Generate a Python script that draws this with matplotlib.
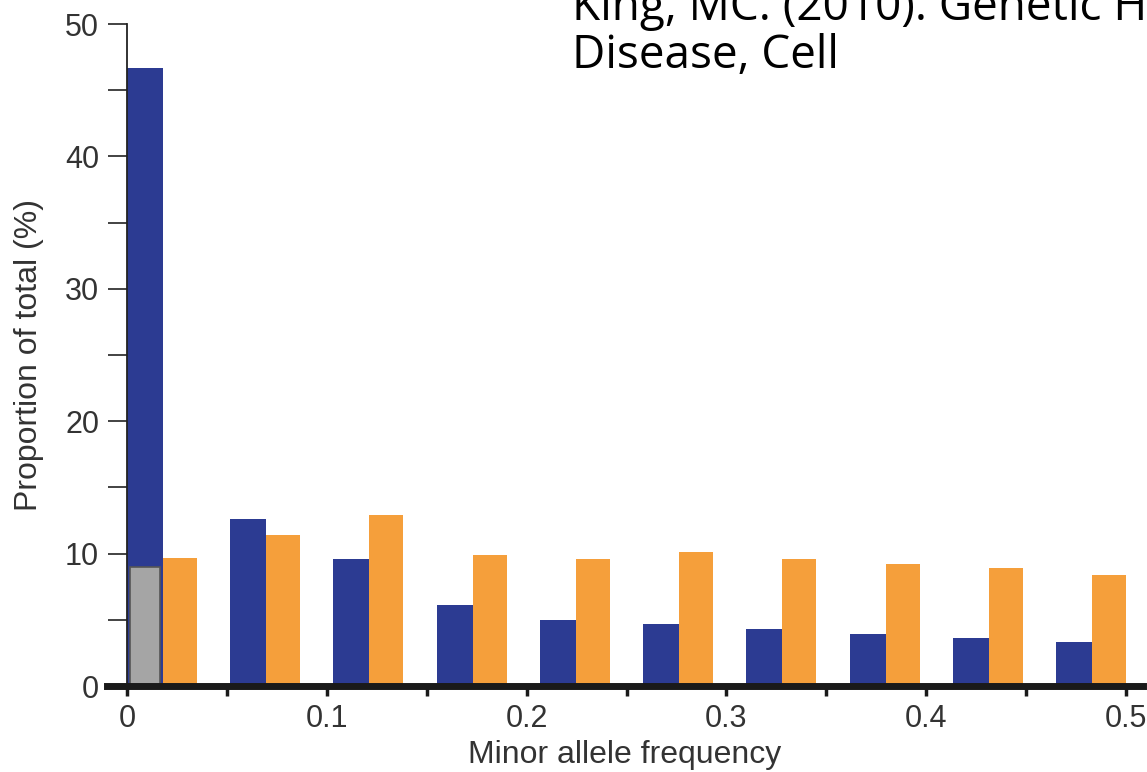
from matplotlib import pyplot as plt
import numpy as np

# minor allele frequency bins, proportion of total (%)
n_bins = 10
blue_vals = [46.7, 12.6, 9.6, 6.1, 5.0, 4.7, 4.3, 3.9, 3.6, 3.3]
orange_vals = [9.7, 11.4, 12.9, 9.9, 9.6, 10.1, 9.6, 9.2, 8.9, 8.4]
gray_vals = [9.0]

x_ticks = [0, 0.1, 0.2, 0.3, 0.4, 0.5]
x_ticklabels = ['0', '0.1', '0.2', '0.3', '0.4', '0.5']
y_ticks = [0, 10, 20, 30, 40, 50]

BLUE = '#2c3b92'
ORANGE = '#f59f3b'
GRAY = '#a5a5a5'
TXT = '#333333'

plt.rcParams['font.family'] = ['Liberation Sans', 'DejaVu Sans']

W, H = 1147, 772
fig = plt.figure(figsize=(W / 100, H / 100), dpi=100)

# axes in pixel terms: x=0 at 127px, 0.5 at 1126px ; y=0 at 686px, 50 at 24px
px_per_unit = (1126 - 127) / 0.5
ax_left, ax_right = 107, 1143
ax_bottom, ax_top = 686, 24
ax = fig.add_axes([ax_left / W, 1 - ax_bottom / H,
                   (ax_right - ax_left) / W, (ax_bottom - ax_top) / H])
ax.set_xlim((ax_left - 127) / px_per_unit, (ax_right - 127) / px_per_unit)
ax.set_ylim(0, 50)

w_blue, w_orange = 0.018, 0.017
pair_w = w_blue + w_orange
step = (0.5 - pair_w) / (n_bins - 1)
lefts = np.arange(n_bins) * step

ax.bar(lefts, blue_vals, width=w_blue, align='edge', color=BLUE, linewidth=0, zorder=1)
ax.bar(lefts + w_blue, orange_vals, width=w_orange, align='edge', color=ORANGE,
       linewidth=0, zorder=1)
ax.bar(lefts[:1] + 0.0015, gray_vals, width=w_blue - 0.003, align='edge', color=GRAY,
       edgecolor='#555555', linewidth=1.2, zorder=2)

# spines
for s in ['top', 'right']:
    ax.spines[s].set_visible(False)
ax.spines['left'].set_position(('data', 0))
ax.spines['left'].set_bounds(0, 50)
ax.spines['left'].set_linewidth(1.3)
ax.spines['left'].set_color('#222222')
ax.spines['bottom'].set_linewidth(5)
ax.spines['bottom'].set_color('#1a1a1a')
ax.spines['bottom'].set_zorder(3)

ax.set_yticks(y_ticks)
ax.set_yticks(np.arange(5, 50, 10), minor=True)
ax.tick_params(axis='y', which='both', direction='out', length=14, width=1.2,
               color='#222222', labelsize=22, labelcolor=TXT, pad=6)

ax.set_xticks(x_ticks)
ax.set_xticklabels(x_ticklabels)
ax.set_xticks(np.arange(0.05, 0.5, 0.1), minor=True)
ax.tick_params(axis='x', which='both', direction='out', length=7, width=2.5,
               color='#1a1a1a', labelsize=22, labelcolor=TXT, pad=6)

ax.set_ylabel('Proportion of total (%)', fontsize=23, color=TXT)
ax.yaxis.set_label_coords((44 - ax_left) / (ax_right - ax_left), 0.5)
ax.set_xlabel('Minor allele frequency', fontsize=23, color=TXT, labelpad=4)

# citation text (runs past the right edge, as in the slide)
fig.text(572 / W, 1 - 20 / H, 'King, MC. (2010). Genetic Heterogeneity in Human',
         fontsize=33, family=['Open Sans', 'DejaVu Sans'], color='black', va='baseline')
fig.text(572 / W, 1 - 68 / H, 'Disease, Cell',
         fontsize=33, family=['Open Sans', 'DejaVu Sans'], color='black', va='baseline')

fig.savefig('out.png', dpi=100)
